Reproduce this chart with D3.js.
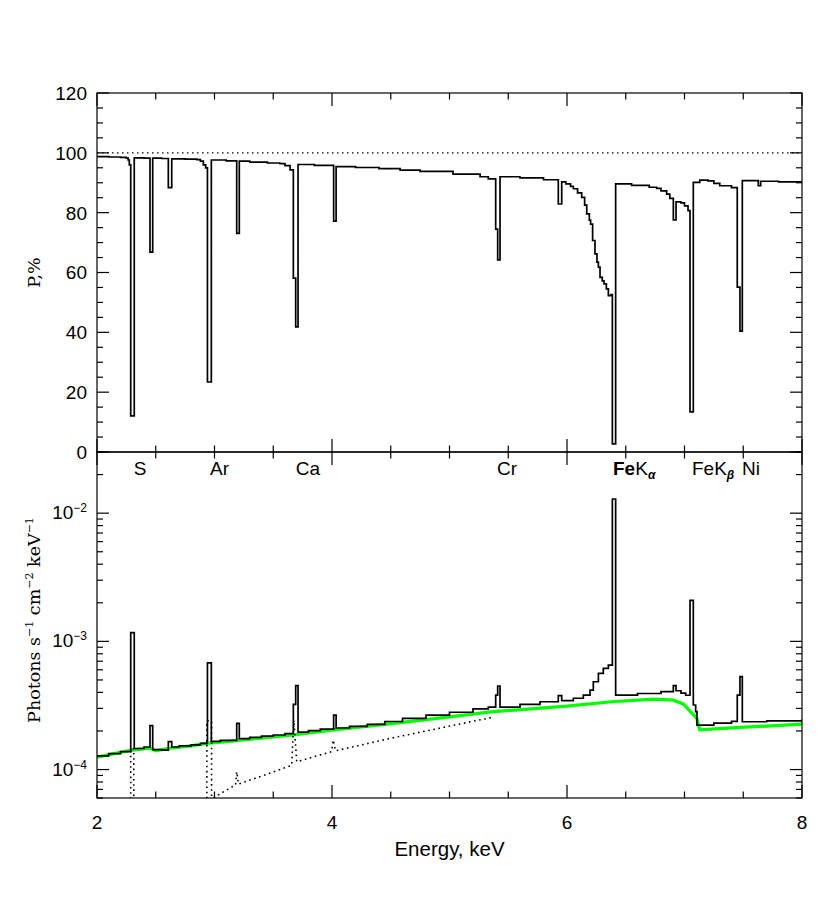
<!DOCTYPE html>
<html>
<head>
<meta charset="utf-8">
<script src="https://cdn.jsdelivr.net/npm/d3@7"></script>
<style>
    body { margin: 0; background: #fff; }
    .tick-label { font-family: "Liberation Sans", Arial, sans-serif; font-size: 19px; fill: #000; }
    .axis-title { font-family: "DejaVu Serif", serif; font-size: 17.5px; fill: #000; }
    .frame { fill: none; stroke: #000; stroke-width: 1.2; }
    .tick { stroke: #000; stroke-width: 1.2; }
</style>
</head>
<body>
<svg id="vis_svg" width="830" height="911"></svg>
<script>
// Energy axis, keV
let energyTicks = [2, 4, 6, 8];

// Polarisation P,% (step histogram: [energy, percent])
let polEnergy = [2.00, 2.10, 2.20, 2.25, 2.265, 2.275, 2.287, 2.317, 2.40, 2.451, 2.474, 2.55, 2.607, 2.636,
    2.75, 2.85, 2.88, 2.905, 2.925, 2.94, 2.973, 3.10, 3.189, 3.211, 3.30, 3.45, 3.557, 3.60, 3.643, 3.671,
    3.691, 3.711, 3.85, 4.014, 4.035, 4.20, 4.40, 4.58, 4.75, 5.03, 5.26, 5.33, 5.393, 5.41, 5.43, 5.60,
    5.80, 5.926, 5.955, 5.99, 6.03, 6.054, 6.09, 6.125, 6.15, 6.168, 6.19, 6.201, 6.218, 6.238, 6.255,
    6.267, 6.281, 6.30, 6.315, 6.335, 6.352, 6.375, 6.386, 6.414, 6.55, 6.70, 6.763, 6.80, 6.848, 6.875,
    6.905, 6.928, 6.97, 7.00, 7.03, 7.047, 7.075, 7.13, 7.20, 7.25, 7.30, 7.40, 7.449, 7.472, 7.492, 7.628,
    7.648, 7.80, 8.00];
let polValue = [98.7, 98.6, 98.5, 98.2, 97.6, 96.0, 12.1, 98.3, 98.2, 66.8, 98.2, 98.1, 88.4, 98.0,
    97.9, 97.7, 97.2, 96.0, 95.0, 23.4, 97.6, 97.3, 73.1, 97.2, 96.9, 96.6, 96.4, 95.7, 94.3, 58.1,
    41.8, 96.1, 95.8, 77.2, 95.4, 95.1, 94.7, 94.2, 93.8, 92.9, 92.0, 91.3, 74.5, 64.2, 92.0, 91.6,
    91.0, 82.9, 90.3, 89.6, 88.8, 88.0, 86.6, 85.1, 82.5, 79.6, 77.5, 76.2, 70.7, 66.2, 63.5,
    61.8, 58.4, 57.2, 56.2, 54.5, 52.3, 52.6, 2.7, 89.6, 89.1, 88.5, 88.1, 87.3, 86.2, 84.8,
    77.6, 83.6, 83.3, 82.3, 80.7, 13.4, 90.1, 90.9, 90.6, 89.8, 89.0, 88.4, 55.1, 40.4, 90.7, 89.0,
    90.5, 90.3, 89.9];

// Total spectrum, photons s^-1 cm^-2 keV^-1 (step histogram)
let specEnergy = [2.00, 2.10, 2.20, 2.287, 2.317, 2.40, 2.451, 2.474, 2.55, 2.607, 2.636, 2.70, 2.80,
    2.88, 2.935, 2.94, 2.973, 3.05, 3.189, 3.211, 3.30, 3.40, 3.50, 3.60, 3.671, 3.691, 3.711, 3.80, 3.90,
    4.014, 4.035, 4.15, 4.30, 4.45, 4.60, 4.80, 5.00, 5.20, 5.33, 5.393, 5.41, 5.43, 5.60, 5.77, 5.926,
    5.955, 6.054, 6.139, 6.196, 6.224, 6.267, 6.309, 6.352, 6.386, 6.414, 6.60, 6.80, 6.905, 6.928, 6.97,
    7.01, 7.047, 7.075, 7.095, 7.106, 7.25, 7.40, 7.449, 7.472, 7.492, 7.70, 8.00];
let specValue = [1.28e-4, 1.33e-4, 1.38e-4, 1.17e-3, 1.46e-4, 1.50e-4, 2.20e-4, 1.43e-4, 1.42e-4, 1.65e-4,
    1.50e-4, 1.53e-4, 1.56e-4, 1.60e-4, 1.66e-4, 6.80e-4, 1.66e-4, 1.69e-4, 2.29e-4, 1.74e-4, 1.78e-4,
    1.82e-4, 1.86e-4, 1.91e-4, 3.22e-4, 4.51e-4, 1.96e-4, 2.01e-4, 2.07e-4, 2.66e-4, 2.11e-4, 2.17e-4,
    2.25e-4, 2.37e-4, 2.51e-4, 2.66e-4, 2.80e-4, 2.97e-4, 3.07e-4, 3.81e-4, 4.48e-4, 3.07e-4, 3.22e-4,
    3.38e-4, 3.77e-4, 3.45e-4, 3.60e-4, 3.81e-4, 4.17e-4, 4.84e-4, 5.63e-4, 6.15e-4, 6.53e-4, 1.29e-2,
    3.81e-4, 3.92e-4, 4.05e-4, 4.51e-4, 4.12e-4, 3.95e-4, 3.80e-4, 2.09e-3, 3.19e-4, 2.83e-4, 2.22e-4,
    2.30e-4, 2.38e-4, 3.81e-4, 5.30e-4, 2.36e-4, 2.40e-4, 2.47e-4];

// Continuum (green)
let contEnergy = [2.00, 2.28, 2.45, 2.50, 2.60, 2.80, 2.93, 3.10, 3.40, 3.67, 4.00, 4.58, 5.00, 5.37, 6.00,
    6.38, 6.735, 6.905, 6.99, 7.047, 7.104, 7.13, 7.47, 8.00];
let contValue = [1.25e-4, 1.41e-4, 1.47e-4, 1.40e-4, 1.46e-4, 1.53e-4, 1.60e-4, 1.65e-4, 1.76e-4, 1.86e-4,
    2.03e-4, 2.32e-4, 2.58e-4, 2.83e-4, 3.12e-4, 3.38e-4, 3.54e-4, 3.48e-4, 3.25e-4, 2.86e-4, 2.52e-4,
    2.04e-4, 2.13e-4, 2.26e-4];

// Dotted component
let dotEnergy = [2.287, 2.287, 2.313, 2.313, 2.935, 2.935, 2.975, 2.975, 3.00, 3.18, 3.189, 3.205, 3.40,
    3.657, 3.675, 3.70, 3.997, 4.01, 4.03, 4.494, 5.359];
let dotValue = [1e-5, 1.45e-4, 1.45e-4, 1e-5, 1e-5, 2.40e-4, 2.40e-4, 1e-5, 6.1e-5, 7.6e-5, 9.6e-5, 7.7e-5,
    8.9e-5, 1.08e-4, 2.43e-4, 1.15e-4, 1.38e-4, 1.70e-4, 1.40e-4, 1.75e-4, 2.55e-4];

// Line identifications
let lineNames = ['S', 'Ar', 'Ca', 'Cr'];
let lineCenters = [140, 219.5, 308, 507];

let svg;
let x, yPol, ySpec;
let left = 97, right = 802, top1 = 93, bottom1 = 452, bottom2 = 798;

/**
 * Set up the scales, then draw both panels
 */
function prepVis() {
    svg = d3.select('svg#vis_svg');

    x = d3.scaleLinear().domain([2, 8]).range([left, right]);
    yPol = d3.scaleLinear().domain([0, 120]).range([bottom1, top1]);
    ySpec = d3.scaleLog().domain([6e-5, 3e-2]).range([bottom2, bottom1]);

    let defs = svg.append('defs');
    defs.append('clipPath').attr('id', 'clip1').append('rect')
        .attr('x', left).attr('y', top1).attr('width', right - left).attr('height', bottom1 - top1);
    defs.append('clipPath').attr('id', 'clip2').append('rect')
        .attr('x', left).attr('y', bottom1).attr('width', right - left).attr('height', bottom2 - bottom1);

    drawTopPanel();
    drawBottomPanel();
    drawXTicks();
    drawLabels();
}

function drawTopPanel() {
    let g = svg.append('g').attr('clip-path', 'url(#clip1)');

    // 100% reference
    g.append('line')
        .attr('x1', left).attr('x2', right)
        .attr('y1', yPol(100)).attr('y2', yPol(100))
        .attr('stroke', '#000').attr('stroke-width', 1.2)
        .attr('stroke-dasharray', '1.5,3.5');

    let line = d3.line()
        .curve(d3.curveStepAfter)
        .x(d => x(d[0]))
        .y(d => yPol(d[1]));
    g.append('path')
        .attr('d', line(d3.zip(polEnergy, polValue)))
        .attr('fill', 'none').attr('stroke', '#000').attr('stroke-width', 1.7);

    // y ticks, both sides
    let t = svg.append('g');
    d3.range(0, 121, 5).forEach(function(v) {
        let len = v % 20 === 0 ? 12 : 6;
        t.append('line').attr('class', 'tick')
            .attr('x1', left).attr('x2', left + len).attr('y1', yPol(v)).attr('y2', yPol(v));
        t.append('line').attr('class', 'tick')
            .attr('x1', right).attr('x2', right - len).attr('y1', yPol(v)).attr('y2', yPol(v));
        if (v % 20 === 0) {
            t.append('text').attr('class', 'tick-label')
                .attr('x', 87).attr('y', yPol(v)).attr('dy', '0.36em')
                .attr('text-anchor', 'end').text(v);
        }
    });

    svg.append('rect').attr('class', 'frame')
        .attr('x', left).attr('y', top1).attr('width', right - left).attr('height', bottom1 - top1);
}

function drawBottomPanel() {
    let g = svg.append('g').attr('clip-path', 'url(#clip2)');

    let line = d3.line()
        .x(d => x(d[0]))
        .y(d => ySpec(d[1]));

    g.append('path')
        .attr('d', line(d3.zip(contEnergy, contValue)))
        .attr('fill', 'none').attr('stroke', '#00ff00').attr('stroke-width', 3.2);

    g.append('path')
        .attr('d', line(d3.zip(dotEnergy, dotValue)))
        .attr('fill', 'none').attr('stroke', '#000').attr('stroke-width', 1.6)
        .attr('stroke-dasharray', '1.6,3.6');

    g.append('path')
        .attr('d', line.curve(d3.curveStepAfter)(d3.zip(specEnergy, specValue)))
        .attr('fill', 'none').attr('stroke', '#000').attr('stroke-width', 1.7);

    // log ticks, both sides
    let t = svg.append('g');
    [-5, -4, -3, -2].forEach(function(p) {
        d3.range(1, 10).forEach(function(m) {
            let v = m * Math.pow(10, p);
            if (v < 6e-5 || v > 3e-2) return;
            let len = m === 1 ? 12 : 6;
            t.append('line').attr('class', 'tick')
                .attr('x1', left).attr('x2', left + len).attr('y1', ySpec(v)).attr('y2', ySpec(v));
            t.append('line').attr('class', 'tick')
                .attr('x1', right).attr('x2', right - len).attr('y1', ySpec(v)).attr('y2', ySpec(v));
            if (m === 1) {
                let lab = t.append('text').attr('class', 'tick-label')
                    .attr('x', 87).attr('y', ySpec(v) + 6).attr('text-anchor', 'end');
                lab.append('tspan').text('10');
                lab.append('tspan').attr('dy', -7).attr('font-size', 12).text('\u2212' + (-p));
            }
        });
    });

    svg.append('rect').attr('class', 'frame')
        .attr('x', left).attr('y', bottom1).attr('width', right - left).attr('height', bottom2 - bottom1);
}

function drawXTicks() {
    let t = svg.append('g');
    d3.range(2, 8.01, 0.5).forEach(function(e) {
        let len = e % 2 === 0 ? 13 : 6.5;
        let px = x(e);
        // top of upper panel, shared middle axis, bottom of lower panel
        t.append('line').attr('class', 'tick').attr('x1', px).attr('x2', px).attr('y1', top1).attr('y2', top1 + len);
        t.append('line').attr('class', 'tick').attr('x1', px).attr('x2', px).attr('y1', bottom1 - len).attr('y2', bottom1 + len);
        t.append('line').attr('class', 'tick').attr('x1', px).attr('x2', px).attr('y1', bottom2).attr('y2', bottom2 - len);
    });

    energyTicks.forEach(function(e) {
        t.append('text').attr('class', 'tick-label')
            .attr('x', x(e)).attr('y', 829).attr('text-anchor', 'middle').text(e);
    });
}

function drawLabels() {
    svg.append('text').attr('class', 'tick-label')
        .attr('x', (left + right) / 2).attr('y', 856).attr('text-anchor', 'middle')
        .style('font-size', '20.5px')
        .text('Energy, keV');

    svg.append('text').attr('class', 'axis-title')
        .attr('transform', 'translate(40,' + ((top1 + bottom1) / 2) + ') rotate(-90)')
        .attr('text-anchor', 'middle').text('P,%');

    let ph = svg.append('text').attr('class', 'axis-title')
        .attr('transform', 'translate(40,' + ((bottom1 + bottom2) / 2 - 5) + ') rotate(-90)')
        .attr('text-anchor', 'middle');
    ph.append('tspan').text('Photons s');
    ph.append('tspan').attr('dy', -7).attr('font-size', 11).text('\u22121');
    ph.append('tspan').attr('dy', 7).text(' cm');
    ph.append('tspan').attr('dy', -7).attr('font-size', 11).text('\u22122');
    ph.append('tspan').attr('dy', 7).text(' keV');
    ph.append('tspan').attr('dy', -7).attr('font-size', 11).text('\u22121');

    // element names under the middle axis
    let el = svg.append('g');
    lineNames.forEach(function(n, i) {
        el.append('text').attr('class', 'tick-label')
            .attr('x', lineCenters[i]).attr('y', 475).attr('text-anchor', 'middle').text(n);
    });

    let ka = el.append('text').attr('class', 'tick-label').attr('x', 613).attr('y', 475);
    ka.append('tspan').attr('font-weight', 'bold').text('Fe');
    ka.append('tspan').text('K');
    ka.append('tspan').attr('dy', 4).attr('font-size', 12).attr('font-weight', 'bold')
        .attr('font-style', 'italic').text('\u03b1');

    let kb = el.append('text').attr('class', 'tick-label').attr('x', 692).attr('y', 475);
    kb.append('tspan').text('FeK');
    kb.append('tspan').attr('dy', 4).attr('font-size', 12).attr('font-weight', 'bold')
        .attr('font-style', 'italic').text('\u03b2');

    el.append('text').attr('class', 'tick-label').attr('x', 742).attr('y', 475).text('Ni');
}

prepVis();
</script>
</body>
</html>
